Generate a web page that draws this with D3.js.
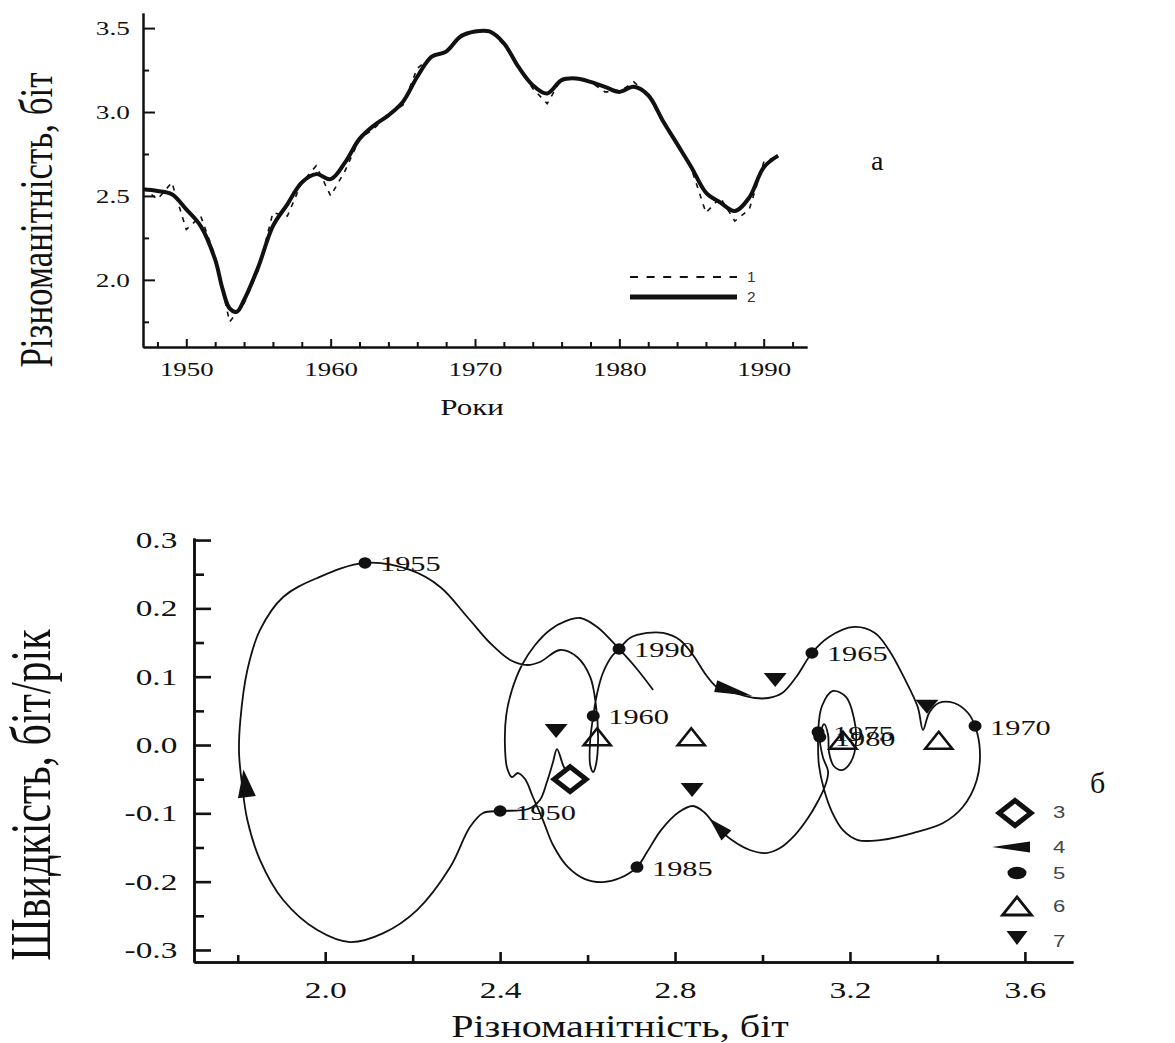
<!DOCTYPE html>
<html><head><meta charset="utf-8">
<script src="https://cdn.jsdelivr.net/npm/d3@7"></script>
<style>body{margin:0;background:#fff} svg{display:block}</style>
</head><body>
<svg id="c" width="1175" height="1043"></svg>
<script>
// ===== Panel а: diversity by year =====
const rawYears = [1947,1948,1949,1950,1951,1952,1953,1954,1955,1956,1957,1958,1959,1960,1961,1962,1963,1964,1965,1966,1967,1968,1969,1970,1971,1972,1973,1974,1975,1976,1977,1978,1979,1980,1981,1982,1983,1984,1985,1986,1987,1988,1989,1990,1991];
const rawValues = [2.55,2.48,2.58,2.30,2.38,2.14,1.75,1.86,2.06,2.40,2.38,2.58,2.68,2.50,2.65,2.84,2.90,2.99,3.04,3.26,3.33,3.36,3.46,3.48,3.49,3.40,3.27,3.14,3.05,3.20,3.20,3.18,3.12,3.12,3.18,3.10,2.94,2.82,2.66,2.40,2.49,2.35,2.42,2.70,2.74];
const smoothYears = [1947,1948,1949,1950,1951,1952,1952.5,1953,1953.5,1954,1955,1956,1957,1958,1959,1960,1961,1962,1963,1964,1965,1966,1967,1968,1969,1970,1971,1972,1973,1974,1975,1976,1977,1978,1979,1980,1981,1982,1983,1984,1985,1986,1987,1988,1989,1990,1991];
const smoothValues = [2.54,2.53,2.51,2.42,2.32,2.12,1.95,1.83,1.81,1.88,2.08,2.32,2.45,2.58,2.63,2.60,2.70,2.84,2.92,2.98,3.06,3.21,3.33,3.36,3.45,3.48,3.48,3.41,3.27,3.16,3.11,3.19,3.20,3.18,3.15,3.12,3.15,3.10,2.95,2.81,2.67,2.52,2.46,2.41,2.49,2.67,2.74];
const topXTicks = [1950,1960,1970,1980,1990];
const topXMinorTicks = [1948,1952,1954,1956,1958,1962,1964,1966,1968,1972,1974,1976,1978,1982,1984,1986,1988,1992];
const topYTicks = [2.0,2.5,3.0,3.5];
const topYTickLabels = ["2.0","2.5","3.0","3.5"];
const topYMinorTicks = [1.75,2.25,2.75,3.25];
const topLegendLabels = ["1","2"];

// ===== Panel б: phase trajectory (diversity vs speed) =====
const phaseH = [2.560,2.544,2.530,2.521,2.507,2.491,2.464,2.400,2.361,2.331,2.286,2.210,2.133,2.057,1.982,1.904,1.851,1.822,1.810,1.803,1.806,1.822,1.851,1.904,1.982,2.091,2.194,2.263,2.325,2.377,2.423,2.462,2.491,2.537,2.576,2.606,2.619,2.624,2.619,2.613,2.606,2.606,2.613,2.622,2.635,2.656,2.672,2.697,2.736,2.773,2.811,2.841,2.871,2.898,2.937,2.983,3.013,3.045,3.077,3.113,3.152,3.209,3.257,3.289,3.323,3.355,3.367,3.381,3.403,3.438,3.470,3.486,3.497,3.490,3.458,3.413,3.344,3.269,3.218,3.184,3.159,3.141,3.129,3.127,3.127,3.136,3.161,3.191,3.209,3.214,3.202,3.182,3.163,3.152,3.150,3.141,3.131,3.138,3.150,3.143,3.127,3.104,3.074,3.040,3.008,2.971,2.930,2.894,2.866,2.841,2.809,2.768,2.736,2.713,2.674,2.635,2.594,2.553,2.521,2.498,2.475,2.457,2.441,2.427,2.416,2.411,2.414,2.427,2.450,2.480,2.514,2.551,2.583,2.622,2.672,2.711,2.750];
const phaseV = [-0.0498,-0.0293,-0.0059,-0.0249,-0.0542,-0.0805,-0.0937,-0.0966,-0.0996,-0.1201,-0.1786,-0.2416,-0.2753,-0.2884,-0.2709,-0.2269,-0.1684,-0.1098,-0.0586,-0.0117,0.0366,0.1098,0.1684,0.2167,0.2445,0.2665,0.2562,0.2313,0.1874,0.1493,0.1245,0.1171,0.1215,0.1391,0.1288,0.0996,0.0586,0.0073,-0.0293,-0.0395,-0.0293,0.0073,0.0425,0.0761,0.1054,0.1303,0.1406,0.1567,0.1640,0.1640,0.1537,0.1318,0.1025,0.0835,0.0761,0.0688,0.0688,0.0761,0.0996,0.1347,0.1581,0.1728,0.1640,0.1391,0.0996,0.0556,0.0220,0.0469,0.0615,0.0615,0.0469,0.0278,-0.0073,-0.0512,-0.0908,-0.1142,-0.1288,-0.1391,-0.1391,-0.1245,-0.0981,-0.0659,-0.0293,0.0000,0.0190,0.0571,0.0791,0.0703,0.0395,0.0044,-0.0249,-0.0366,-0.0307,-0.0102,0.0146,0.0307,0.0117,-0.0176,-0.0395,-0.0600,-0.0820,-0.1069,-0.1318,-0.1508,-0.1581,-0.1537,-0.1391,-0.1186,-0.0981,-0.0893,-0.0981,-0.1245,-0.1567,-0.1786,-0.1947,-0.2006,-0.1962,-0.1772,-0.1464,-0.1098,-0.0761,-0.0498,-0.0410,-0.0469,-0.0337,0.0000,0.0439,0.0805,0.1171,0.1464,0.1684,0.1816,0.1859,0.1728,0.1406,0.1127,0.0805];
const startH = [2.560];
const startV = [-0.050];
const yearLabels = ["1950","1955","1960","1965","1970","1975","1980","1985","1990"];
const yearH = [2.400,2.091,2.613,3.113,3.486,3.127,3.131,2.713,2.672];
const yearV = [-0.0966,0.2665,0.0425,0.1347,0.0278,0.0190,0.0117,-0.1786,0.1406];
const openTriH = [2.622,2.837,3.184,3.403];
const openTriV = [0.012,0.012,0.007,0.007];
const downTriH = [2.528,2.839,3.029,3.376];
const downTriV = [0.0205,-0.066,0.095,0.056];
const arrowH = [1.817,2.935,2.898];
const arrowV = [-0.056,0.079,-0.120];
const botXTicks = [2.0,2.4,2.8,3.2,3.6];
const botXTickLabels = ["2.0","2.4","2.8","3.2","3.6"];
const botXMinorTicks = [1.8,2.2,2.6,3.0,3.4];
const botYTicks = [-0.3,-0.2,-0.1,0.0,0.1,0.2,0.3];
const botYTickLabels = ["-0.3","-0.2","-0.1","0.0","0.1","0.2","0.3"];
const botYMinorTicks = [-0.25,-0.15,-0.05,0.05,0.15,0.25];
const botLegendLabels = ["3","4","5","6","7"];

// ===== drawing =====
const svg = d3.select("#c");
const SERIF = "'Liberation Serif','Times New Roman',serif";
const SANS = "'Liberation Sans',Arial,sans-serif";
const INK = "#111";

function addText(g, x, y, str, size, sx, opts = {}) {
  return g.append("text")
    .attr("transform", `translate(${x},${y}) scale(${sx},1)` + (opts.rotate ? " rotate(-90)" : ""))
    .attr("font-family", opts.family || SERIF)
    .attr("font-size", size)
    .attr("fill", opts.fill || INK)
    .attr("text-anchor", opts.anchor || "start")
    .text(str);
}
function styleAxis(g, width, size, sx) {
  g.select(".domain").attr("stroke", INK).attr("stroke-width", width);
  g.selectAll(".tick line").attr("stroke", INK).attr("stroke-width", width);
  g.selectAll(".tick text").attr("font-family", SERIF).attr("font-size", size)
    .attr("fill", INK).attr("transform", `scale(${sx},1)`);
}

// ---------- panel а ----------
const tx = d3.scaleLinear().domain([1947, 1993]).range([143, 807]);
const ty = d3.scaleLinear().domain([1.6, 3.59]).range([347, 13]);
const gA = svg.append("g");

const rawData = rawYears.map((y, i) => ({ t: y, v: rawValues[i] }));
const smoothData = smoothYears.map((y, i) => ({ t: y, v: smoothValues[i] }));

gA.append("path").datum(rawData)
  .attr("d", d3.line().x(d => tx(d.t)).y(d => ty(d.v)))
  .attr("fill", "none").attr("stroke", INK).attr("stroke-width", 1.6)
  .attr("stroke-dasharray", "5,6");
gA.append("path").datum(smoothData)
  .attr("d", d3.line().curve(d3.curveCatmullRom.alpha(0.5)).x(d => tx(d.t)).y(d => ty(d.v)))
  .attr("fill", "none").attr("stroke", INK).attr("stroke-width", 4).attr("stroke-linejoin", "round");

const axAxm = gA.append("g").attr("transform", "translate(0,347)")
  .call(d3.axisBottom(tx).tickValues(topXMinorTicks).tickSizeInner(-5).tickSizeOuter(0).tickFormat(""));
styleAxis(axAxm, 2, 19, 1);
const axAx = gA.append("g").attr("transform", "translate(0,347)")
  .call(d3.axisBottom(tx).tickValues(topXTicks).tickSizeInner(-8).tickSizeOuter(0).tickPadding(15).tickFormat(d => String(d)));
styleAxis(axAx, 2, 19.5, 1.38);
const axAym = gA.append("g").attr("transform", "translate(143,0)")
  .call(d3.axisLeft(ty).tickValues(topYMinorTicks).tickSizeInner(-6).tickSizeOuter(0).tickFormat(""));
styleAxis(axAym, 2, 19, 1);
const axAy = gA.append("g").attr("transform", "translate(143,0)")
  .call(d3.axisLeft(ty).tickValues(topYTicks).tickSizeInner(-12).tickSizeOuter(0).tickPadding(9.3)
    .tickFormat((d, i) => topYTickLabels[i]));
styleAxis(axAy, 2, 19.5, 1.4);

addText(gA, 472, 415, "Роки", 23, 1.35, { anchor: "middle" });
addText(gA, 52, 220, "Різноманітність, біт", 35, 1.3, { anchor: "middle", rotate: true });
addText(gA, 871, 170, "а", 28, 1.0);

// legend a
gA.append("line").attr("x1", 630).attr("x2", 737).attr("y1", 277).attr("y2", 277)
  .attr("stroke", INK).attr("stroke-width", 2).attr("stroke-dasharray", "8,8.6");
gA.append("line").attr("x1", 630).attr("x2", 737).attr("y1", 297).attr("y2", 297)
  .attr("stroke", INK).attr("stroke-width", 5);
addText(gA, 747, 282, topLegendLabels[0], 14, 1.1, { family: SANS, fill: "#333" });
addText(gA, 747, 302, topLegendLabels[1], 14, 1.1, { family: SANS, fill: "#333" });

// ---------- panel б ----------
const bx = d3.scaleLinear().domain([1.7, 3.71]).range([194, 1073]);
const by = d3.scaleLinear().domain([-0.3176, 0.303]).range([962, 538]);
const gB = svg.append("g");

const traj = phaseH.map((h, i) => ({ h, v: phaseV[i] }));
gB.append("path").datum(traj)
  .attr("d", d3.line().curve(d3.curveCatmullRom.alpha(0.5)).x(d => bx(d.h)).y(d => by(d.v)))
  .attr("fill", "none").attr("stroke", INK).attr("stroke-width", 1.8).attr("stroke-linejoin", "round");

// axes б
const axBxm = gB.append("g").attr("transform", "translate(0,962)")
  .call(d3.axisBottom(bx).tickValues(botXMinorTicks).tickSizeInner(-7).tickSizeOuter(0).tickFormat(""));
styleAxis(axBxm, 2.6, 21, 1);
const axBx = gB.append("g").attr("transform", "translate(0,962)")
  .call(d3.axisBottom(bx).tickValues(botXTicks).tickSizeInner(-10).tickSizeOuter(0).tickPadding(19)
    .tickFormat((d, i) => botXTickLabels[i]));
styleAxis(axBx, 2.6, 24, 1.4);
const axBym = gB.append("g").attr("transform", "translate(194,0)")
  .call(d3.axisLeft(by).tickValues(botYMinorTicks).tickSizeInner(-10).tickSizeOuter(0).tickFormat(""));
styleAxis(axBym, 2.6, 21, 1);
const axBy = gB.append("g").attr("transform", "translate(194,0)")
  .call(d3.axisLeft(by).tickValues(botYTicks).tickSizeInner(-17).tickSizeOuter(0).tickPadding(11.5)
    .tickFormat((d, i) => botYTickLabels[i]));
styleAxis(axBy, 2.6, 23, 1.45);

addText(gB, 620, 1037, "Різноманітність, біт", 32, 1.25, { anchor: "middle" });
addText(gB, 50, 795, "Швидкість, біт/рік", 42, 1.35, { anchor: "middle", rotate: true });
addText(gB, 1090, 793, "б", 30, 1.0);

// marker shapes
const diamondPath = "M0,-12.5 L16,0 L0,12.5 L-16,0 Z";
const openTriPath = "M0,-8.5 L13.5,8.5 L-13.5,8.5 Z";
const downTriPath = "M-11.5,-7 L11.5,-7 L0,7 Z";
function wedge(L, W) { return `M${L / 2},0 L${-L / 2},${-W / 2} L${-L / 2},${W / 2} Z`; }

// start point (3)
gB.selectAll(".start").data(startH).enter().append("path")
  .attr("transform", (d, i) => `translate(${bx(d)},${by(startV[i])})`)
  .attr("d", diamondPath).attr("fill", "#fff").attr("stroke", INK).attr("stroke-width", 5)
  .attr("stroke-linejoin", "miter");

// open triangles (6)
gB.selectAll(".otri").data(openTriH).enter().append("path")
  .attr("transform", (d, i) => `translate(${bx(d)},${by(openTriV[i])})`)
  .attr("d", openTriPath).attr("fill", "none").attr("stroke", INK).attr("stroke-width", 2.6);

// filled down triangles (7)
gB.selectAll(".dtri").data(downTriH).enter().append("path")
  .attr("transform", (d, i) => `translate(${bx(d)},${by(downTriV[i])})`)
  .attr("d", downTriPath).attr("fill", INK);

// direction arrows (4), oriented along the trajectory
const trajPx = traj.map(d => [bx(d.h), by(d.v)]);
const arrowDims = [[28, 18], [38, 12], [24, 14]];
arrowH.forEach((h, k) => {
  const px = bx(h), py = by(arrowV[k]);
  let best = 0, bd = Infinity;
  trajPx.forEach((p, i) => { const dd = (p[0] - px) ** 2 + (p[1] - py) ** 2; if (dd < bd) { bd = dd; best = i; } });
  const a = trajPx[Math.max(0, best - 1)], b = trajPx[Math.min(trajPx.length - 1, best + 1)];
  const ang = Math.atan2(b[1] - a[1], b[0] - a[0]) * 180 / Math.PI;
  gB.append("path").attr("transform", `translate(${px},${py}) rotate(${ang})`)
    .attr("d", wedge(arrowDims[k][0], arrowDims[k][1])).attr("fill", INK);
});

// year dots (5) + labels
yearH.forEach((h, i) => {
  const px = bx(h), py = by(yearV[i]);
  gB.append("ellipse").attr("cx", px).attr("cy", py).attr("rx", 6.5).attr("ry", 5.8).attr("fill", INK);
  addText(gB, px + 15, py + 8.5, yearLabels[i], 22, 1.38);
});

// legend б
const lg = gB.append("g");
lg.append("path").attr("transform", "translate(1015,813)").attr("d", diamondPath)
  .attr("fill", "#fff").attr("stroke", INK).attr("stroke-width", 5);
lg.append("path").attr("transform", "translate(1011,847) rotate(180)").attr("d", wedge(38, 11)).attr("fill", INK);
lg.append("ellipse").attr("cx", 1017).attr("cy", 873).attr("rx", 9.5).attr("ry", 6.2).attr("fill", INK);
lg.append("path").attr("transform", "translate(1017,906)").attr("d", "M0,-9 L14.5,9 L-14.5,9 Z")
  .attr("fill", "none").attr("stroke", INK).attr("stroke-width", 2.8);
lg.append("path").attr("transform", "translate(1017,938)").attr("d", "M-10.5,-7 L10.5,-7 L0,7 Z").attr("fill", INK);
[818, 853, 879, 912, 947].forEach((yy, i) => addText(lg, 1053, yy, botLegendLabels[i], 17, 1.3, { family: SANS, fill: "#444" }));
</script>
</body></html>
